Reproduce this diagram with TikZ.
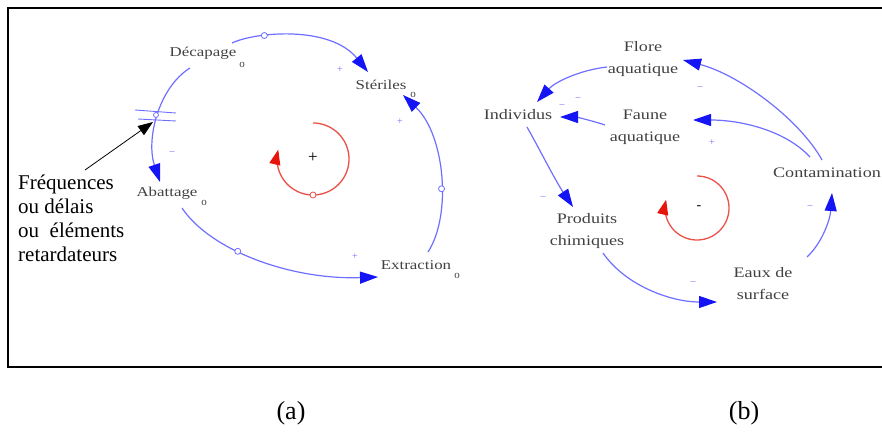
\documentclass[tikz,border=0pt]{standalone}
\usepackage{fontspec}
\setmainfont{Liberation Serif}
\usetikzlibrary{arrows.meta}
\definecolor{lineblue}{RGB}{110,110,255}
\definecolor{arrblue}{RGB}{20,20,245}
\definecolor{labgray}{RGB}{65,65,65}
\definecolor{loopred}{RGB}{235,80,70}
\definecolor{arrred}{RGB}{230,20,10}
\newcommand\wtxt[1]{\scalebox{1.25}[1]{#1}}
\begin{document}
\begin{tikzpicture}[x=1pt,y=-1pt,
 clab/.style={text=labgray,font=\fontsize{13.5}{15}\selectfont,inner sep=0pt},
 clabb/.style={text=labgray,font=\fontsize{14.5}{22}\selectfont,inner sep=0pt,align=center},
 csub/.style={text=labgray,font=\fontsize{11}{11}\selectfont,inner sep=0pt},
 clink/.style={draw=lineblue,line width=1.2pt,-{Triangle[length=18pt,width=12pt,color=arrblue]}},
 cdot/.style={circle,draw=lineblue,fill=white,line width=0.8pt,inner sep=0pt,minimum size=6pt},
 csign/.style={text=lineblue,font=\fontsize{10}{10}\selectfont,inner sep=0pt},
 redloop/.style={draw=loopred,line width=1.3pt,-{Triangle[length=15pt,width=11pt,color=arrred]}},
]
\useasboundingbox (0,0) rectangle (882,433);
% frame
\draw[line width=2pt] (882,8) -- (8,8) -- (8,367) -- (882,367);

% ---------- (a) ----------
\node[clab] (dec) at (203,53) {\wtxt{Décapage}};
\node[csub] (deco) at (242,65) {o};
\node[clab] (ste) at (381,85) {\wtxt{Stériles}};
\node[csub] (steo) at (413,95) {o};
\node[clab] (aba) at (167,193) {\wtxt{Abattage}};
\node[csub] (abao) at (204,203) {o};
\node[clab] (ext) at (416,265) {\wtxt{Extraction}};
\node[csub] (exto) at (457,276) {o};

\coordinate (d1) at (232,43); \coordinate (s1) at (368,72);
\coordinate (d2) at (190,68); \coordinate (a2) at (160,182);
\coordinate (a3) at (182,208); \coordinate (e3) at (378,277);
\coordinate (e4) at (428,252); \coordinate (s4) at (403,95);

\draw[clink] (d1) .. controls (255,32) and (330,25) .. (s1)
  node[pos=0.3,cdot] {};
\draw[clink] (d2) .. controls (158,88) and (146,140) .. (a2);
\draw[clink] (a3) .. controls (210,250) and (290,280) .. (e3)
  node[pos=0.4,cdot] {};
\draw[clink] (e4) .. controls (452,215) and (445,135) .. (s4)
  node[pos=0.42,cdot] {};

% delay mark
\coordinate (delay) at (156,115);
\draw[lineblue,line width=0.9pt] (135,110) -- (176,113);
\draw[lineblue,line width=0.9pt] (138,119) -- (176,121);
\node[cdot,minimum size=5pt] at (delay) {};

% signs (a)
\node[csign] (sa1) at (340,70) {+};
\node[csign] (sa2) at (172,153) {--};
\node[csign] (sa3) at (355,257) {+};
\node[csign] (sa4) at (400,122) {+};

% loop (a)
\draw[redloop] plot[domain=-90:195,samples=80] ({313+36*cos(\x)},{159+36*sin(\x)});
\node[cdot,draw=loopred] (la) at (313,195) {};
\node[font=\fontsize{17}{17}\selectfont,inner sep=0pt] (pa) at (313,158) {+};

% annotation
\node[font=\fontsize{21}{24}\selectfont,align=left,anchor=north west,inner sep=0pt] (note) at (18,175)
  {Fréquences\\ou délais\\ou\ \ éléments\\retardateurs};
\coordinate (n1) at (85,170);
\coordinate (n2) at (153,122);
\draw[line width=0.8pt,-{Triangle[length=15pt,width=11pt]}] (n1) -- (n2);

% ---------- (b) ----------
\node[clabb] (flo) at (643,59) {\wtxt{Flore}\\\wtxt{aquatique}};
\node[clabb] (fau) at (645,127) {\wtxt{Faune}\\\wtxt{aquatique}};
\node[clabb] (ind) at (518,115) {\wtxt{Individus}};
\node[clabb] (con) at (827,173) {\wtxt{Contamination}};
\node[clabb] (pro) at (587,231) {\wtxt{Produits}\\\wtxt{chimiques}};
\node[clabb] (eau) at (763,284) {\wtxt{Eaux de}\\\wtxt{surface}};

\coordinate (b1s) at (607,67);  \coordinate (b1e) at (537,102);
\coordinate (b2s) at (605,125); \coordinate (b2e) at (560,117);
\coordinate (b3s) at (822,160); \coordinate (b3e) at (683,60);
\coordinate (b4s) at (810,157); \coordinate (b4e) at (693,120);
\coordinate (b5s) at (527,127); \coordinate (b5e) at (573,207);
\coordinate (b6s) at (603,253); \coordinate (b6e) at (717,302);
\coordinate (b7s) at (807,257); \coordinate (b7e) at (832,193);

\draw[clink] (b1s) .. controls (580,70) and (555,82) .. (b1e);
\draw[clink] (b2s) .. controls (590,120) and (575,117) .. (b2e);
\draw[clink] (b3s) .. controls (800,120) and (740,75) .. (b3e);
\draw[clink] (b4s) .. controls (785,130) and (740,120) .. (b4e);
\draw[clink] (b5s) .. controls (540,150) and (555,180) .. (b5e);
\draw[clink] (b6s) .. controls (625,285) and (670,302) .. (b6e);
\draw[clink] (b7s) .. controls (822,243) and (830,220) .. (b7e);

% signs (b)
\node[csign] (sb1) at (578,99) {--};
\node[csign] (sb2) at (562,106) {--};
\node[csign] (sb3) at (700,88) {--};
\node[csign] (sb4) at (712,143) {+};
\node[csign] (sb5) at (543,198) {--};
\node[csign] (sb6) at (693,283) {--};
\node[csign] (sb7) at (810,207) {--};

% loop (b)
\draw[redloop] plot[domain=-90:195,samples=80] ({697+32*cos(\x)},{208+32*sin(\x)});
\node[font=\fontsize{14}{14}\selectfont,inner sep=0pt] (pb) at (699,208) {-};

% captions
\node[font=\fontsize{26}{26}\selectfont] (capa) at (291,413) {(a)};
\node[font=\fontsize{26}{26}\selectfont] (capb) at (744,413) {(b)};
\end{tikzpicture}
\end{document}
